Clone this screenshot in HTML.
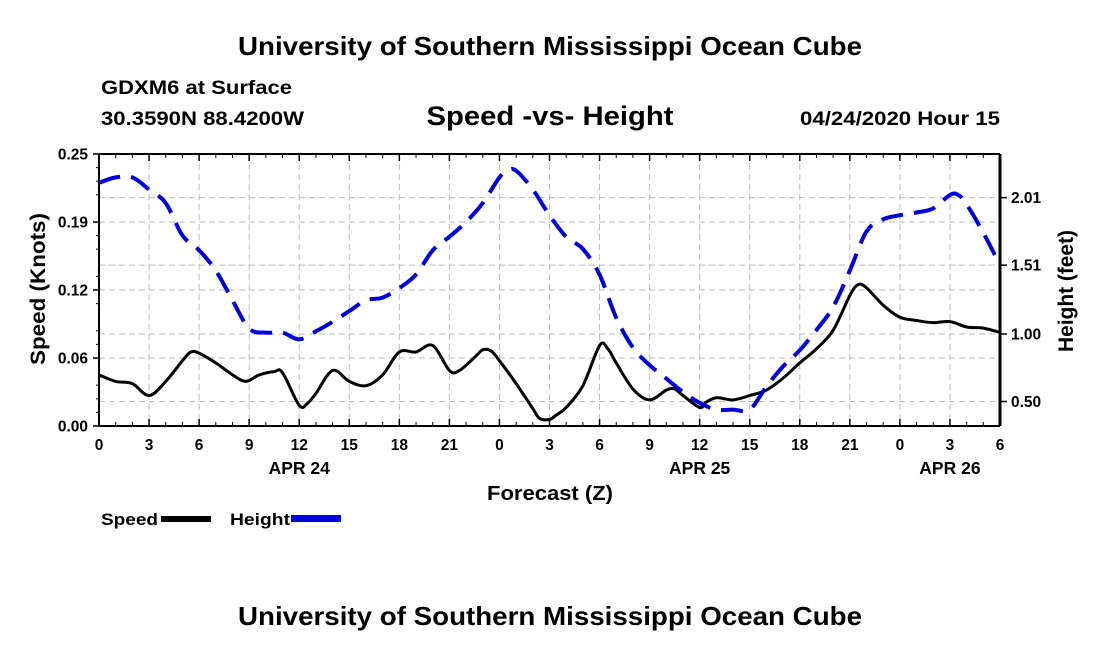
<!DOCTYPE html>
<html><head><meta charset="utf-8"><style>
html,body{margin:0;padding:0;background:#fff;width:1100px;height:650px;overflow:hidden}
svg text{font-family:"Liberation Sans",Arial,sans-serif;font-weight:bold;fill:#000}
</style></head><body>
<svg id="chart" width="1100" height="650" viewBox="0 0 1100 650">
<text x="550" y="55" text-anchor="middle" font-size="26" textLength="624" lengthAdjust="spacingAndGlyphs">University of Southern Mississippi Ocean Cube</text>
<text x="101" y="94" font-size="19" textLength="191" lengthAdjust="spacingAndGlyphs">GDXM6 at Surface</text>
<text x="101" y="125" font-size="19" textLength="203" lengthAdjust="spacingAndGlyphs">30.3590N 88.4200W</text>
<text x="550" y="125" text-anchor="middle" font-size="27" textLength="247" lengthAdjust="spacingAndGlyphs">Speed -vs- Height</text>
<text x="1000" y="125" text-anchor="end" font-size="19" textLength="200" lengthAdjust="spacingAndGlyphs">04/24/2020 Hour 15</text>
<g id="grid"></g>
<g id="axes"></g>
<g id="series"></g>
<text x="550" y="500" text-anchor="middle" font-size="20" textLength="126" lengthAdjust="spacingAndGlyphs">Forecast (Z)</text>
<text transform="translate(45,289) rotate(-90)" text-anchor="middle" font-size="21" textLength="152" lengthAdjust="spacingAndGlyphs">Speed (Knots)</text>
<text transform="translate(1073,291) rotate(-90)" text-anchor="middle" font-size="21" textLength="122" lengthAdjust="spacingAndGlyphs">Height (feet)</text>
<g>
<text x="101" y="525" font-size="17" textLength="57" lengthAdjust="spacingAndGlyphs">Speed</text>
<rect x="161" y="516" width="50" height="6" fill="#000"/>
<text x="230" y="525" font-size="17" textLength="60" lengthAdjust="spacingAndGlyphs">Height</text>
<rect x="291" y="515" width="50" height="7" fill="#0000dd"/>
</g>
<text x="550" y="625" text-anchor="middle" font-size="26" textLength="624" lengthAdjust="spacingAndGlyphs">University of Southern Mississippi Ocean Cube</text>
</svg>
<script>
const xTickLabels=["0","3","6","9","12","15","18","21","0","3","6","9","12","15","18","21","0","3","6"];
const dayLabels=["APR 24","APR 25","APR 26"];
const dayHours=[12,36,51];
const speedTickLabels=["0.00","0.06","0.12","0.19","0.25"];
const speedTicks=[0,0.0625,0.125,0.1875,0.25];
const heightTickLabels=["0.50","1.00","1.51","2.01"];
const heightTicks=[0.5,1.0,1.51,2.01];
const speedHours=[0,1,2,3,4,5,5.5,6,7,8,8.8,9.6,10.5,11,12,12.5,13,14,15,16,17,18,19,20,21,21.6,22.5,23,23.5,24,25,26,26.4,27,27.4,28,29,30,30.5,31,32,33,34,34.5,35,36,36.4,37,38,39,40,41,42,43,44,45,45.5,46,47,48,49,50,51,52,53,54];
const speedValues=[0.047,0.041,0.039,0.028,0.041,0.060,0.068,0.067,0.058,0.047,0.041,0.047,0.050,0.049,0.019,0.021,0.030,0.051,0.041,0.037,0.047,0.068,0.068,0.074,0.051,0.051,0.063,0.070,0.069,0.060,0.039,0.016,0.007,0.006,0.010,0.017,0.037,0.074,0.071,0.058,0.034,0.024,0.033,0.034,0.028,0.017,0.022,0.026,0.024,0.028,0.033,0.044,0.058,0.071,0.088,0.120,0.130,0.127,0.111,0.100,0.097,0.095,0.096,0.091,0.090,0.086];
const heightHours=[0,1,2,3,4,5,6,7,8,9,10,11,12,13,14,15,16,17,18,19,20,21,22,23,24,24.5,25,26,27,28,29,30,31,32,33,34,35,36,37,38,39,40,41,42,43,44,45,46,47,48,49,50,51,51.5,52,53,54];
const heightValues=[2.12,2.16,2.16,2.07,1.97,1.73,1.62,1.47,1.25,1.04,1.01,1.01,0.96,1.02,1.09,1.17,1.25,1.27,1.34,1.44,1.62,1.72,1.83,1.97,2.16,2.21,2.21,2.07,1.88,1.72,1.63,1.44,1.12,0.90,0.77,0.67,0.57,0.49,0.44,0.44,0.44,0.61,0.76,0.88,1.03,1.20,1.47,1.76,1.85,1.88,1.90,1.93,2.03,2.03,1.96,1.75,1.51];

const L=99,R=1000,T=154,B=426;
const NS="http://www.w3.org/2000/svg";
function xS(h){return L+(h/54)*(R-L);}
function yS(v){return B-(v/0.25)*(B-T);}
function yH(h){return 334-(h-1.0)*135;}
function mk(tag,attrs,parent){const e=document.createElementNS(NS,tag);for(const k in attrs)e.setAttribute(k,attrs[k]);parent.appendChild(e);return e;}
function smooth(pts){let d="M"+pts[0][0].toFixed(1)+","+pts[0][1].toFixed(1);
  for(let i=0;i<pts.length-1;i++){const p0=pts[Math.max(0,i-1)],p1=pts[i],p2=pts[i+1],p3=pts[Math.min(pts.length-1,i+2)];
    const c1=[p1[0]+(p2[0]-p0[0])/6,p1[1]+(p2[1]-p0[1])/6],c2=[p2[0]-(p3[0]-p1[0])/6,p2[1]-(p3[1]-p1[1])/6];
    d+=" C"+c1[0].toFixed(1)+","+c1[1].toFixed(1)+" "+c2[0].toFixed(1)+","+c2[1].toFixed(1)+" "+p2[0].toFixed(1)+","+p2[1].toFixed(1);}
  return d;}
const grid=document.getElementById('grid'),axes=document.getElementById('axes'),series=document.getElementById('series');
const gs={stroke:"#bbb","stroke-width":1,"stroke-dasharray":"6,4",fill:"none"};
xTickLabels.forEach((lab,i)=>{
  const x=xS(i*3);
  if(i>0&&i<xTickLabels.length-1){const g=mk('line',Object.assign({x1:x,x2:x,y1:T,y2:B},gs),grid);
  
  }
  const t=mk('line',{x1:x,x2:x,y1:B,y2:B-7,stroke:"#000","stroke-width":1.5},axes);
  
  
  mk('line',{x1:x,x2:x,y1:T,y2:T+7,stroke:"#000","stroke-width":1.5},axes);
  const tx=mk('text',{x:x,y:B+24,"text-anchor":"middle","font-size":15.5},axes);tx.textContent=lab;
  
  
});
for(let h=1;h<54;h++){if(h%3){const x=xS(h);mk('line',{x1:x,x2:x,y1:B,y2:B-4,stroke:"#000","stroke-width":1},axes);mk('line',{x1:x,x2:x,y1:T,y2:T+4,stroke:"#000","stroke-width":1},axes);}}
dayLabels.forEach((lab,i)=>{const t=mk('text',{x:xS(dayHours[i]),y:B+48,"text-anchor":"middle","font-size":17.5},axes);t.textContent=lab;
  
  });
speedTicks.forEach((v,i)=>{const y=yS(v);
  if(i>0&&i<speedTicks.length-1){const g=mk('line',Object.assign({x1:L,x2:R,y1:y,y2:y},gs),grid);
  
  }
  mk('line',{x1:L-6,x2:L,y1:y,y2:y,stroke:"#000","stroke-width":1.5},axes);
  const t=mk('text',{x:L-11,y:y+5.5,"text-anchor":"end","font-size":15.5},axes);t.textContent=speedTickLabels[i];
  
  });
for(let k=1;k<20;k++){if(k%4){const y=yS(k*0.0125);mk('line',{x1:L-3,x2:L,y1:y,y2:y,stroke:"#000","stroke-width":1},axes);}}
heightTicks.forEach((v,i)=>{const y=yH(v);
  const g=mk('line',Object.assign({x1:L,x2:R,y1:y,y2:y},gs),grid);
  
  
  mk('line',{x1:R,x2:R+7,y1:y,y2:y,stroke:"#000","stroke-width":1.5},axes);
  const t=mk('text',{x:R+11,y:y+5.5,"font-size":15.5},axes);t.textContent=heightTickLabels[i];
  
  });
mk('line',{x1:L,x2:L,y1:T,y2:B,stroke:"#000","stroke-width":2},axes);
mk('line',{x1:L,x2:R,y1:B,y2:B,stroke:"#000","stroke-width":2},axes);
mk('line',{x1:L,x2:R,y1:T,y2:T,stroke:"#000","stroke-width":2},axes);
mk('line',{x1:R,x2:R,y1:T,y2:B,stroke:"#000","stroke-width":3},axes);
const sp=speedHours.map((h,i)=>[xS(h),yS(speedValues[i])]);
const hp=heightHours.map((h,i)=>[xS(h),yH(heightValues[i])]);
const s=mk('path',{d:smooth(sp),fill:"none",stroke:"#000","stroke-width":3,"stroke-linejoin":"round"},series);


const hl=mk('path',{d:smooth(hp),fill:"none",stroke:"#0000dd","stroke-width":4,"stroke-dasharray":"22,11","stroke-linejoin":"round"},series);


</script>
</body></html>
